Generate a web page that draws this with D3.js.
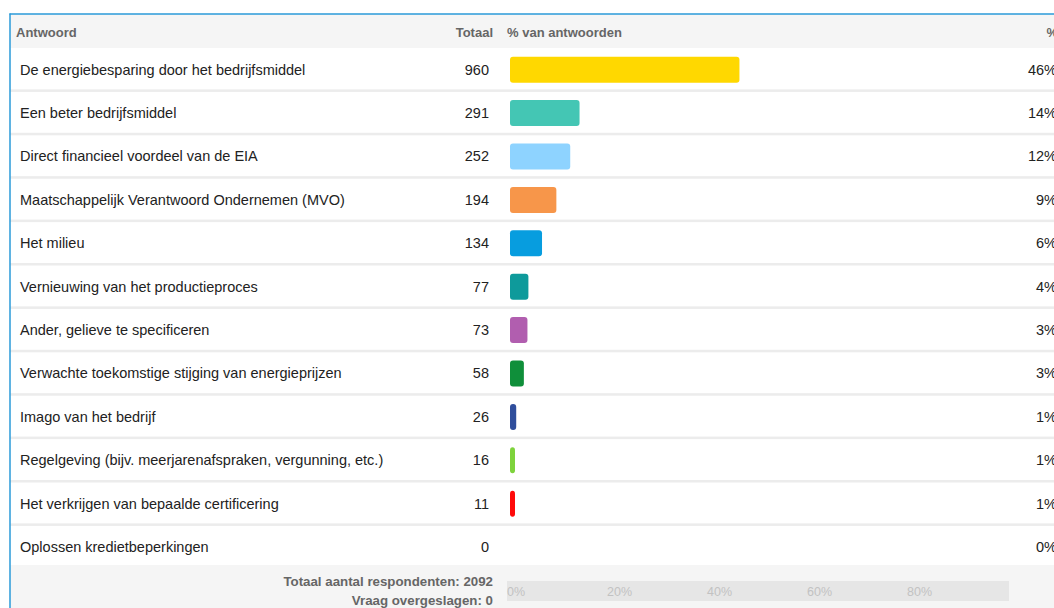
<!DOCTYPE html>
<html>
<head>
<meta charset="utf-8">
<script src="https://cdn.jsdelivr.net/npm/d3@7"></script>
<style>
  html, body { margin: 0; padding: 0; background: #fff; overflow: hidden; }
  svg { display: block; font-family: "Liberation Sans", Arial, sans-serif; }
</style>
</head>
<body>
<svg id="chart" width="1054" height="608"></svg>
<script>
var answers = [
  "De energiebesparing door het bedrijfsmiddel",
  "Een beter bedrijfsmiddel",
  "Direct financieel voordeel van de EIA",
  "Maatschappelijk Verantwoord Ondernemen (MVO)",
  "Het milieu",
  "Vernieuwing van het productieproces",
  "Ander, gelieve te specificeren",
  "Verwachte toekomstige stijging van energieprijzen",
  "Imago van het bedrijf",
  "Regelgeving (bijv. meerjarenafspraken, vergunning, etc.)",
  "Het verkrijgen van bepaalde certificering",
  "Oplossen kredietbeperkingen"
];
var totals = [960, 291, 252, 194, 134, 77, 73, 58, 26, 16, 11, 0];
var barColors = ["#ffd800", "#44c6b4", "#8ed3ff", "#f7964a", "#079ddf", "#0e9a9b",
                 "#b15eaf", "#0f8f3a", "#2f4e9c", "#7ed33c", "#ff0a0a", "#cccccc"];
var respondents = 2092;
var skipped = 0;
var axisTicks = [0, 20, 40, 60, 80];

var svg = d3.select("#chart");
var W = 1054, H = 608;
var top0 = 48, rowH = 43.4;

var y = d3.scaleBand()
    .domain(answers)
    .range([top0, top0 + answers.length * rowH])
    .padding(0);

var x = d3.scaleLinear()
    .domain([0, 1])
    .range([510, 1010]);

var axisX = d3.scaleLinear()
    .domain([0, 100])
    .range([507, 1007]);

// header
svg.append("rect").attr("x", 10).attr("y", 14).attr("width", W - 10).attr("height", top0 - 14)
    .attr("fill", "#f5f5f5");

var hdr = svg.append("g").attr("font-size", 13).attr("font-weight", "bold").attr("fill", "#666");
hdr.append("text").attr("x", 16).attr("y", 37).text("Antwoord");
hdr.append("text").attr("x", 493).attr("y", 37).attr("text-anchor", "end").text("Totaal");
hdr.append("text").attr("x", 507).attr("y", 37).text("% van antwoorden");
hdr.append("text").attr("x", 1058).attr("y", 37).attr("text-anchor", "end").text("%");

// rows
var rows = svg.selectAll("g.row")
    .data(answers)
    .enter().append("g")
    .attr("class", "row")
    .attr("transform", function(d) { return "translate(0," + y(d) + ")"; });

rows.append("rect")
    .attr("x", 10).attr("y", y.bandwidth() - 2)
    .attr("width", W - 10).attr("height", 2.5)
    .attr("fill", "#ececec");

rows.append("text")
    .attr("x", 20).attr("y", y.bandwidth() / 2 + 5)
    .attr("font-size", 14.5).attr("fill", "#222")
    .text(function(d) { return d; });

rows.append("text")
    .attr("x", 489).attr("y", y.bandwidth() / 2 + 5)
    .attr("font-size", 14.5).attr("fill", "#222").attr("text-anchor", "end")
    .text(function(d, i) { return totals[i]; });

rows.filter(function(d, i) { return totals[i] > 0; })
  .append("rect")
    .attr("x", x(0))
    .attr("y", y.bandwidth() / 2 - 13)
    .attr("height", 26)
    .attr("rx", 3)
    .attr("width", function(d) {
      var i = answers.indexOf(d);
      return Math.max(5, x(totals[i] / respondents) - x(0));
    })
    .attr("fill", function(d) { return barColors[answers.indexOf(d)]; });

rows.append("text")
    .attr("x", 1057).attr("y", y.bandwidth() / 2 + 5)
    .attr("font-size", 14.5).attr("fill", "#222").attr("text-anchor", "end")
    .text(function(d, i) { return Math.round(totals[i] / respondents * 100) + "%"; });

// footer
svg.append("rect").attr("x", 10).attr("y", 565).attr("width", W - 10).attr("height", H - 565)
    .attr("fill", "#f5f5f5");

var ft = svg.append("g").attr("font-size", 13.3).attr("font-weight", "bold").attr("fill", "#666")
    .attr("text-anchor", "end");
ft.append("text").attr("x", 493).attr("y", 586).text("Totaal aantal respondenten: " + respondents);
ft.append("text").attr("x", 493).attr("y", 605).text("Vraag overgeslagen: " + skipped);

svg.append("rect").attr("x", axisX(0)).attr("y", 581).attr("width", 502).attr("height", 20)
    .attr("fill", "#e6e6e6");

svg.selectAll("text.tick")
    .data(axisTicks)
    .enter().append("text")
    .attr("class", "tick")
    .attr("x", function(d) { return axisX(d); })
    .attr("y", 595.5)
    .attr("font-size", 12.5)
    .attr("fill", "#c2c2c2")
    .text(function(d) { return d + "%"; });

// frame borders
svg.append("line").attr("x1", 9.5).attr("x2", W).attr("y1", 14).attr("y2", 14)
    .attr("stroke", "#2a9ad8").attr("stroke-width", 1.5);
svg.append("line").attr("x1", 10).attr("x2", 10).attr("y1", 13.5).attr("y2", H)
    .attr("stroke", "#2a9ad8").attr("stroke-width", 1.5);
</script>
</body>
</html>
